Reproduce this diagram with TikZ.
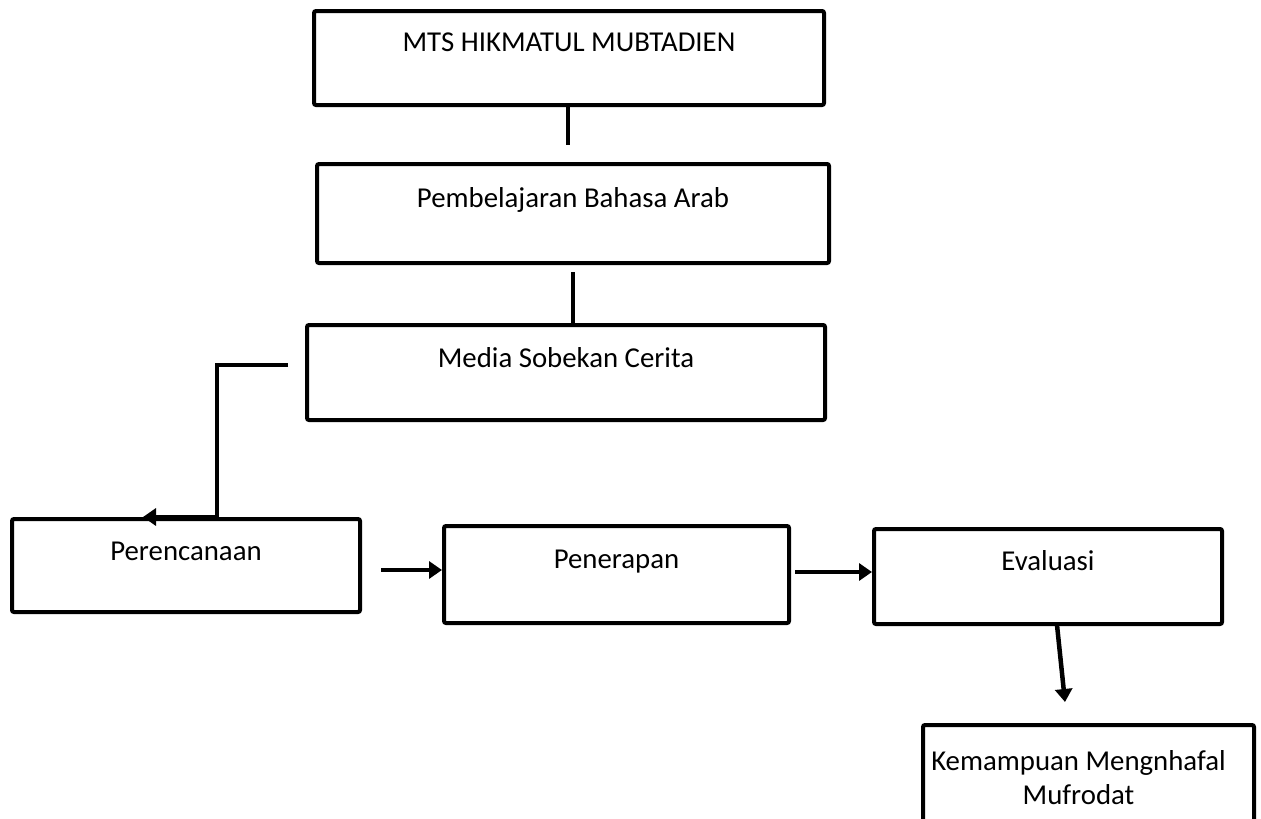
\documentclass[tikz,border=0pt]{standalone}
\usepackage{fontspec}
\setmainfont{Carlito}
\usetikzlibrary{arrows.meta,calc}
\newcommand{\boxtext}[4]{\parbox[c][#2pt][t]{#1pt}{\centering\rule{0pt}{#3pt}#4}}
\tikzset{
  stepbox/.style={draw=black, line width=4pt, rounded corners=2pt, inner sep=0pt, anchor=north west,
    font=\fontsize{28.8}{34}\selectfont},
  conn/.style={draw=black, line width=4.5pt},
  arr/.style={conn, -{Triangle[length=13pt,width=17pt]}}
}
\begin{document}
\begin{tikzpicture}[x=1pt,y=-1pt]
\useasboundingbox (0,0) rectangle (1261,819);
\node[stepbox] (b1) at (312,9)   {\boxtext{510}{94}{40}{MTS HIKMATUL MUBTADIEN}};
\node[stepbox] (b2) at (315,162) {\boxtext{512}{99}{43}{Pembelajaran Bahasa Arab}};
\node[stepbox] (b3) at (305,323) {\boxtext{518}{95}{42}{Media Sobekan Cerita}};
\node[stepbox] (b4) at (10,517)  {\boxtext{348}{93}{41}{Perencanaan}};
\node[stepbox] (b5) at (442,524) {\boxtext{345}{97}{42}{Penerapan}};
\node[stepbox] (b6) at (872,527) {\boxtext{348}{95}{41}{Evaluasi}};
\node[stepbox] (b7) at (921,723) {\parbox[c][100pt][t]{331pt}{\parbox[t]{311pt}{\centering\rule{0pt}{45pt}Kemampuan Mengnhafal\\Mufrodat}}};
% connectors
\coordinate (c1) at (568,145);
\draw[conn] (b1.south -| c1) -- (c1);
\coordinate (c2) at (573,272);
\draw[conn] (c2) -- (c2 |- b3.north);
\coordinate (c3) at (288,365);
\coordinate (c4) at (217,365);
\coordinate (c5) at (143,517);
\draw[conn] (c3) -- (c4) -- (c4 |- b4.north);
\draw[arr] (c4 |- b4.north) -- (c5);
\coordinate (c6) at (381,570);
\draw[arr] (c6) -- (c6 -| b5.west);
\coordinate (c7) at (795,572);
\draw[arr] (c7) -- (c7 -| b6.west);
\coordinate (c8) at (1057,625);
\coordinate (c9) at (1065,702);
\draw[arr] (c8) -- (c9);
\end{tikzpicture}
\end{document}
